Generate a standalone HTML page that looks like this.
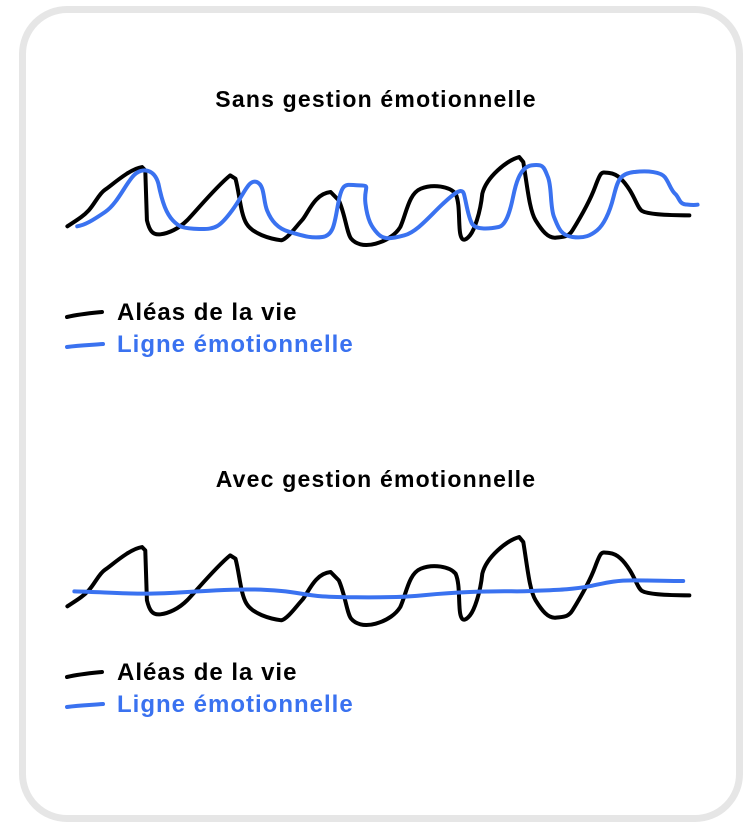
<!DOCTYPE html>
<html><head><meta charset="utf-8"><style>
html,body{margin:0;padding:0;background:#fff;}
body{width:752px;height:834px;position:relative;overflow:hidden;font-family:"Liberation Sans",sans-serif;}
.card{position:absolute;left:19px;top:6px;width:710px;height:802px;border:7px solid #e6e6e6;border-radius:48px;background:#fff;}
.t{position:absolute;font-weight:bold;white-space:nowrap;}
</style></head><body>
<div class="card"></div>
<div class="t" style="left:0;width:752px;text-align:center;top:86px;font-size:23px;letter-spacing:1.2px;color:#000">Sans gestion émotionnelle</div>
<div class="t" style="left:0;width:752px;text-align:center;top:466px;font-size:23px;letter-spacing:1.2px;color:#000">Avec gestion émotionnelle</div>
<div class="t" style="left:117px;top:299px;font-size:24px;letter-spacing:1px;color:#000">Aléas de la vie</div>
<div class="t" style="left:117px;top:331px;font-size:24px;letter-spacing:1px;color:#3a72f0">Ligne émotionnelle</div>
<div class="t" style="left:117px;top:659px;font-size:24px;letter-spacing:1px;color:#000">Aléas de la vie</div>
<div class="t" style="left:117px;top:691px;font-size:24px;letter-spacing:1px;color:#3a72f0">Ligne émotionnelle</div>
<svg width="752" height="834" style="position:absolute;left:0;top:0" fill="none" stroke-linecap="round" stroke-linejoin="round">
<g transform="translate(60,150.4) scale(0.41,0.333)">
<path d="M18,228 C40,210 55,200 70,180 S95,130 110,118 S170,55 200,50 L208,60 L212,210 C218,240 225,255 245,252 S290,235 310,210 S380,110 415,75 L428,85 C438,130 440,190 455,220 S510,265 540,270 C555,265 575,230 590,210 S620,130 660,125 L680,150 C695,190 700,250 710,265 S740,290 770,280 S820,250 830,230 C845,190 850,130 880,115 S950,108 965,130 C975,160 972,200 975,240 S990,270 1000,255 S1025,190 1030,130 C1040,80 1090,30 1120,20 L1130,35 C1140,110 1145,180 1160,210 S1190,265 1210,262 S1240,260 1250,240 S1290,160 1305,110 S1320,65 1340,68 S1375,90 1390,120 S1410,175 1420,182 S1460,195 1535,195" stroke="#000" vector-effect="non-scaling-stroke" style="stroke-width:4px"/>
<path d="M42,228 C60,225 80,210 110,185 S160,100 180,75 S230,55 240,100 C250,160 260,190 275,210 S300,235 340,236 S390,230 420,180 S460,85 480,95 S495,150 505,180 S530,235 560,245 S610,265 640,260 S670,210 680,150 S700,105 730,105 S740,110 745,160 S760,230 775,250 S810,265 840,255 S900,200 930,165 S980,110 985,130 S995,200 1005,220 S1050,235 1070,230 S1100,170 1105,140 S1120,50 1150,45 S1180,50 1190,80 S1195,170 1205,200 S1220,255 1250,260 S1295,255 1310,240 S1340,190 1350,140 S1365,70 1400,65 S1465,65 1475,80 S1490,120 1500,130 S1510,160 1525,162 S1545,165 1555,163" stroke="#3a72f0" vector-effect="non-scaling-stroke" style="stroke-width:4px"/>
</g>
<g transform="translate(60,530.4) scale(0.41,0.333)">
<path d="M18,228 C40,210 55,200 70,180 S95,130 110,118 S170,55 200,50 L208,60 L212,210 C218,240 225,255 245,252 S290,235 310,210 S380,110 415,75 L428,85 C438,130 440,190 455,220 S510,265 540,270 C555,265 575,230 590,210 S620,130 660,125 L680,150 C695,190 700,250 710,265 S740,290 770,280 S820,250 830,230 C845,190 850,130 880,115 S950,108 965,130 C975,160 972,200 975,240 S990,270 1000,255 S1025,190 1030,130 C1040,80 1090,30 1120,20 L1130,35 C1140,110 1145,180 1160,210 S1190,265 1210,262 S1240,260 1250,240 S1290,160 1305,110 S1320,65 1340,68 S1375,90 1390,120 S1410,175 1420,182 S1460,195 1535,195" stroke="#000" vector-effect="non-scaling-stroke" style="stroke-width:4px"/>
<path d="M35,183 C100,185 150,190 210,190 S300,185 380,180 S500,178 540,182 S600,195 640,198 S760,202 820,200 S900,190 1000,185 S1100,185 1150,182 S1250,178 1290,168 S1350,150 1400,150 S1480,152 1520,152" stroke="#3a72f0" vector-effect="non-scaling-stroke" style="stroke-width:4px"/>
</g>
<path d="M67,317 C80,314 92,313 102,312" stroke="#000" stroke-width="4"/>
<path d="M67,347 C80,345 92,345 103,344" stroke="#3a72f0" stroke-width="4"/>
<path d="M67,677 C80,674 92,673 102,672" stroke="#000" stroke-width="4"/>
<path d="M67,707 C80,705 92,705 103,704" stroke="#3a72f0" stroke-width="4"/>
</svg>
</body></html>
